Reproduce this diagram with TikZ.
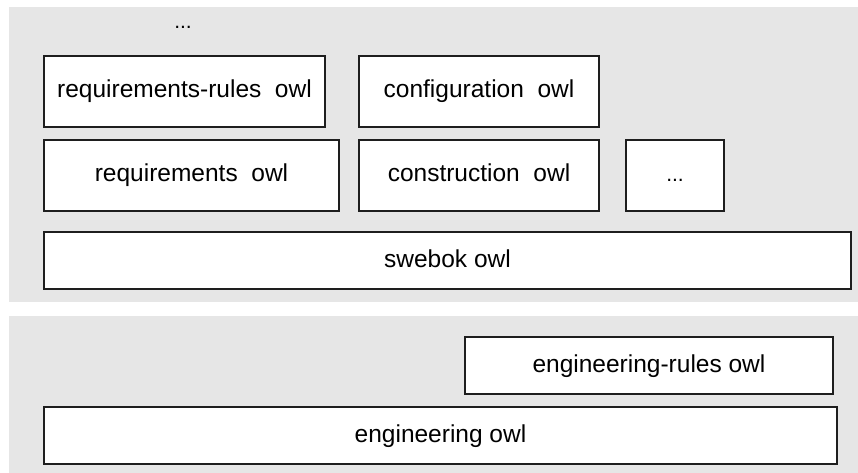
\documentclass[tikz,border=0pt]{standalone}
\usepackage{fontspec}
\setmainfont{Liberation Sans}
\definecolor{layerbg}{RGB}{230,230,230}
\definecolor{boxline}{RGB}{30,30,30}
\tikzset{
  owlbox/.style={draw=boxline, line width=1.6pt, fill=white, inner sep=0pt,
    text height=17pt, text depth=4pt,
    font=\fontsize{24.5}{27}\selectfont},
  layer/.style={fill=layerbg, draw=none},
  dots/.style={font=\fontsize{21}{23}\selectfont, inner sep=0pt}
}
% place a box by its corner coordinates (pixels, y downwards)
\newcommand{\owlnode}[6]{%
  \node[owlbox, minimum width={(#4)-(#2)}, minimum height={(#5)-(#3)}]
    (#1) at ({((#2)+(#4))/2},{((#3)+(#5))/2}) {#6};}
\begin{document}
\begin{tikzpicture}[x=1pt, y=-1pt]
  \useasboundingbox (0,0) rectangle (858,473);
  % the two layers
  \fill[layer] (9,7) rectangle (858,302);
  \fill[layer] (9,316) rectangle (858,473);
  % upper layer
  \node[dots] (topdots) at (183,27) {...};
  \owlnode{reqrules}{44}{56}{325}{127}{requirements-rules\ \ owl}
  \owlnode{config}{359}{56}{599}{127}{configuration\ \ owl}
  \owlnode{req}{44}{140}{339}{211}{requirements\ \ owl}
  \owlnode{constr}{359}{140}{599}{211}{construction\ \ owl}
  \owlnode{more}{626}{140}{724}{211}{\fontsize{21}{23}\selectfont ...}
  \owlnode{swebok}{44}{232}{851}{289}{swebok owl}
  % lower layer
  \owlnode{engrules}{465}{337}{833}{394}{engineering-rules owl}
  \owlnode{eng}{44}{407}{837}{464}{engineering owl}
\end{tikzpicture}
\end{document}
